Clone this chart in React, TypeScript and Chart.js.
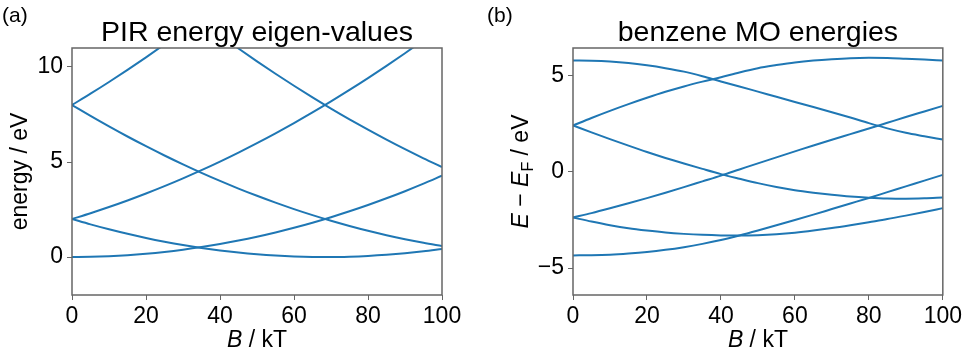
import React, { useEffect, useRef } from 'react';
import { Chart, registerables } from 'chart.js';

Chart.register(...registerables);

// ---------- data ----------
const fieldB = [0, 5, 10, 15, 20, 25, 30, 35, 40, 45, 50, 55, 60, 65, 70, 75, 80, 85, 90, 95, 100];

// (a) PIR energy eigen-values (eV)
const pirLevelA = [0, 0.011, 0.043, 0.096, 0.171, 0.267, 0.385, 0.524, 0.684, 0.866, 1.069, 1.293, 1.539, 1.806, 2.095, 2.405, 2.736, 3.089, 3.463, 3.858, 4.275];
const pirLevelB = [2, 1.718, 1.458, 1.219, 1.001, 0.805, 0.63, 0.477, 0.345, 0.234, 0.145, 0.077, 0.03, 0.005, 0.001, 0.019, 0.058, 0.118, 0.199, 0.302, 0.427];
const pirLevelC = [2, 2.303, 2.628, 2.973, 3.341, 3.729, 4.139, 4.57, 5.023, 5.497, 5.993, 6.51, 7.048, 7.607, 8.188, 8.791, 9.414, 10.059, 10.726, 11.414, 12.123];
const pirLevelD = [8, 7.426, 6.873, 6.342, 5.832, 5.343, 4.876, 4.43, 4.006, 3.602, 3.221, 2.86, 2.521, 2.204, 1.907, 1.633, 1.379, 1.147, 0.936, 0.747, 0.579];
const pirLevelE = [8, 8.595, 9.212, 9.851, 10.51, 11.191, 11.894, 12.617, 13.36, null, null, null, null, null, null, null, null, null, null, null, null];
const pirLevelF = [null, null, null, null, null, null, null, 12.38, 11.666, 10.971, 10.297, 9.644, 9.013, 8.403, 7.814, 7.247, 6.701, 6.176, 5.673, 5.191, 4.731];

// (b) benzene MO energies, E - E_F (eV)
const moLevelA = [5.8, 5.79, 5.75, 5.67, 5.55, 5.4, 5.22, 4.98, 4.71, 4.45, 4.18, 3.91, 3.64, 3.38, 3.11, 2.83, 2.54, 2.27, 2.04, 1.86, 1.69];
const moLevelB = [2.42, 2.81, 3.18, 3.53, 3.86, 4.17, 4.45, 4.7, 4.93, 5.18, 5.4, 5.56, 5.7, 5.8, 5.87, 5.92, 5.94, 5.93, 5.89, 5.85, 5.8];
const moLevelC = [2.42, 2.06, 1.71, 1.37, 1.04, 0.73, 0.44, 0.16, -0.11, -0.35, -0.58, -0.78, -0.95, -1.08, -1.19, -1.28, -1.34, -1.38, -1.39, -1.37, -1.33];
const moLevelD = [-2.37, -2.14, -1.89, -1.63, -1.36, -1.08, -0.79, -0.49, -0.19, 0.13, 0.45, 0.76, 1.07, 1.38, 1.68, 1.97, 2.26, 2.56, 2.86, 3.15, 3.44];
const moLevelE = [-2.37, -2.58, -2.77, -2.93, -3.05, -3.15, -3.22, -3.27, -3.3, -3.31, -3.29, -3.24, -3.16, -3.05, -2.92, -2.77, -2.61, -2.45, -2.27, -2.08, -1.88];
const moLevelF = [-4.34, -4.33, -4.3, -4.24, -4.16, -4.05, -3.91, -3.74, -3.54, -3.3, -3.04, -2.77, -2.5, -2.22, -1.93, -1.64, -1.35, -1.05, -0.75, -0.45, -0.15];

const pirSeries = [pirLevelA, pirLevelB, pirLevelC, pirLevelD, pirLevelE, pirLevelF];
const moSeries = [moLevelA, moLevelB, moLevelC, moLevelD, moLevelE, moLevelF];

const xTicksStep = 20;
const pirYRange = [-2, 11];
const moYRange = [-6.4, 6.45];

// ---------- styling ----------
const FONT = '"Liberation Sans", Arial, Helvetica, sans-serif';
const LINE = '#1f77b4';
const FRAME = '#666666';

type Run = { text: string; size: number; italic?: boolean; dy?: number };

function fontStr(r: Run) {
  return `${r.italic ? 'italic ' : ''}${r.size}px ${FONT}`;
}

function drawRuns(ctx: CanvasRenderingContext2D, runs: Run[], x: number, y: number, rotate: boolean, align: 'center' | 'left') {
  ctx.save();
  ctx.translate(x, y);
  if (rotate) ctx.rotate(-Math.PI / 2);
  ctx.textBaseline = 'alphabetic';
  ctx.textAlign = 'left';
  ctx.fillStyle = '#000';
  const widths = runs.map((r) => {
    ctx.font = fontStr(r);
    return ctx.measureText(r.text).width;
  });
  const total = widths.reduce((a, b) => a + b, 0);
  let cx = align === 'center' ? -total / 2 : 0;
  runs.forEach((r, i) => {
    ctx.font = fontStr(r);
    ctx.fillText(r.text, cx, r.dy || 0);
    cx += widths[i];
  });
  ctx.restore();
}

type PanelProps = {
  left: number;
  width: number;
  height: number;
  areaLeft: number;
  padRight: number;
  series: (number | null)[][];
  yRange: number[];
  tag: string;
  tagX: number;
  title: string;
  yLabel: Run[];
  yLabelX: number;
};

function Panel(p: PanelProps) {
  const ref = useRef<HTMLCanvasElement | null>(null);
  useEffect(() => {
    const canvas = ref.current;
    if (!canvas) return;
    const top = 48;
    const bottom = 295;
    const textPlugin = {
      id: 'panelText',
      afterDraw(chart: any) {
        const ctx: CanvasRenderingContext2D = chart.ctx;
        const a = chart.chartArea;
        ctx.save();
        ctx.strokeStyle = FRAME;
        ctx.lineWidth = 1.5;
        ctx.strokeRect(a.left, a.top, a.right - a.left, a.bottom - a.top);
        ctx.restore();
        const cx = (a.left + a.right) / 2;
        const cy = (a.top + a.bottom) / 2;
        drawRuns(ctx, [{ text: p.title, size: 28.5 }], cx, 41, false, 'center');
        drawRuns(ctx, [{ text: p.tag, size: 21 }], p.tagX, 22, false, 'left');
        drawRuns(ctx, [
          { text: 'B', size: 23, italic: true },
          { text: ' / kT', size: 23 },
        ], cx, 347, false, 'center');
        drawRuns(ctx, p.yLabel, p.yLabelX, cy, true, 'center');
      },
    };
    const datasets = p.series.map((s) => ({
      data: s.map((v, i) => ({ x: fieldB[i], y: v })),
      borderColor: LINE,
      borderWidth: 2,
      pointRadius: 0,
      fill: false,
      cubicInterpolationMode: 'monotone' as const,
      spanGaps: false,
    }));
    const chart = new Chart(canvas, {
      type: 'line',
      data: { datasets },
      options: {
        animation: false,
        responsive: false,
        devicePixelRatio: 1,
        layout: { padding: { top, right: p.padRight, bottom: 0, left: 0 } },
        plugins: { legend: { display: false }, tooltip: { enabled: false }, title: { display: false } },
        scales: {
          x: {
            type: 'linear',
            min: 0,
            max: 100,
            afterFit: (s: any) => {
              s.height = p.height - bottom;
            },
            ticks: {
              stepSize: xTicksStep,
              color: '#000',
              font: { family: FONT, size: 23 },
              padding: 3,
              maxRotation: 0,
            },
            grid: { display: true, drawOnChartArea: false, drawTicks: true, tickLength: 5, tickColor: FRAME },
            border: { display: false },
          },
          y: {
            type: 'linear',
            min: p.yRange[0],
            max: p.yRange[1],
            afterFit: (s: any) => {
              s.width = p.areaLeft;
            },
            ticks: {
              stepSize: 5,
              includeBounds: false,
              color: '#000',
              font: { family: FONT, size: 23 },
              padding: 4,
              callback: (v: any) => (Number(v) < 0 ? '\u2212' + Math.abs(Number(v)) : String(v)),
            },
            grid: { display: true, drawOnChartArea: false, drawTicks: true, tickLength: 5, tickColor: FRAME },
            border: { display: false },
          },
        },
      },
      plugins: [textPlugin],
    });
    return () => chart.destroy();
  }, []);
  return (
    <canvas
      ref={ref}
      width={p.width}
      height={p.height}
      style={{ position: 'absolute', left: p.left, top: 0, width: p.width, height: p.height }}
    />
  );
}

export default function App() {
  return (
    <div style={{ position: 'absolute', left: 0, top: 0, width: 965, height: 351, background: '#fff', overflow: 'hidden' }}>
      <Panel
        left={0}
        width={482}
        height={351}
        areaLeft={72}
        padRight={40}
        series={pirSeries}
        yRange={pirYRange}
        tag="(a)"
        tagX={2}
        title="PIR energy eigen-values"
        yLabel={[{ text: 'energy / eV', size: 23 }]}
        yLabelX={27}
      />
      <Panel
        left={482}
        width={483}
        height={351}
        areaLeft={91}
        padRight={22}
        series={moSeries}
        yRange={moYRange}
        tag="(b)"
        tagX={5}
        title="benzene MO energies"
        yLabel={[
          { text: 'E', size: 23, italic: true },
          { text: ' \u2212 ', size: 23 },
          { text: 'E', size: 23, italic: true },
          { text: 'F', size: 16, dy: 5 },
          { text: ' / eV', size: 23 },
        ]}
        yLabelX={46}
      />
    </div>
  );
}
